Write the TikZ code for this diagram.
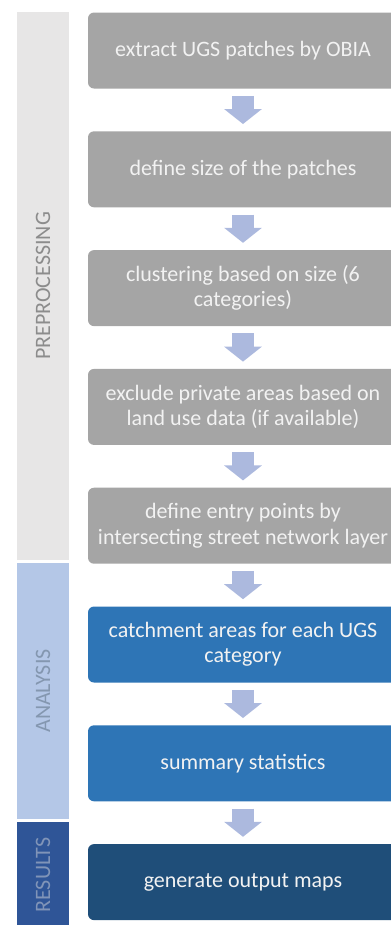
\documentclass[tikz,border=0pt]{standalone}
\usepackage{fontspec}
\setmainfont{Carlito}
\usetikzlibrary{arrows.meta, positioning}
\definecolor{stepgray}{RGB}{165,165,165}
\definecolor{analysisblue}{RGB}{46,117,182}
\definecolor{resultsblue}{RGB}{31,78,121}
\definecolor{flowblue}{RGB}{172,185,222}
\definecolor{prebar}{RGB}{231,230,230}
\definecolor{anabar}{RGB}{180,199,231}
\definecolor{resbar}{RGB}{47,85,151}
\tikzset{
  task/.style={rectangle, rounded corners=4.5pt, minimum width=232.5pt,
               minimum height=57pt, inner sep=0pt, fill=#1,
               text=white!95!black, font=\fontsize{16.5}{19}\selectfont,
               align=center},
  task/.default=stepgray,
  flow/.style={-{Triangle[width=27.75pt, length=11.25pt]}, line width=16.5pt,
               draw=flowblue, shorten <=5.25pt, shorten >=5.25pt},
  phase/.style={rectangle, rotate=90, minimum height=39.4pt, inner sep=0pt,
                fill=#1, font=\fontsize{16.5}{19}\selectfont},
}

\begin{document}
\begin{tikzpicture}[node distance=31.7pt]
  \useasboundingbox (0,0) rectangle (292.5pt,-693.75pt);

  % phase bars on the left
  \node[phase=prebar, minimum width=411pt, text=gray!90!white]
    (pre) at (32.25pt,-214.5pt) {PREPROCESSING};
  \node[phase=anabar, minimum width=192pt, text={rgb,255:red,132;green,151;blue,176}]
    (ana) at (32.25pt,-518.25pt) {ANALYSIS};
  \node[phase=resbar, minimum width=79.5pt, text={rgb,255:red,128;green,148;blue,184}]
    (res) at (32.25pt,-656.25pt) {RESULTS};

  % workflow steps
  \node[task] (extract) at (182.25pt,-37.875pt) {extract UGS patches by OBIA};
  \node[task, below=of extract] (size) {define size of the patches};
  \node[task, below=of size] (cluster) {clustering based on size (6\\categories)};
  \node[task, below=of cluster] (exclude) {exclude private areas based on\\land use data (if available)};
  \node[task, below=of exclude] (entry) {define entry points by\\intersecting street network layer};
  \node[task=analysisblue, below=of entry] (catch) {catchment areas for each UGS\\category};
  \node[task=analysisblue, below=of catch] (stats) {summary statistics};
  \node[task=resultsblue, below=of stats] (maps) {generate output maps};

  \draw[flow] (extract) -- (size);
  \draw[flow] (size) -- (cluster);
  \draw[flow] (cluster) -- (exclude);
  \draw[flow] (exclude) -- (entry);
  \draw[flow] (entry) -- (catch);
  \draw[flow] (catch) -- (stats);
  \draw[flow] (stats) -- (maps);
\end{tikzpicture}
\end{document}
